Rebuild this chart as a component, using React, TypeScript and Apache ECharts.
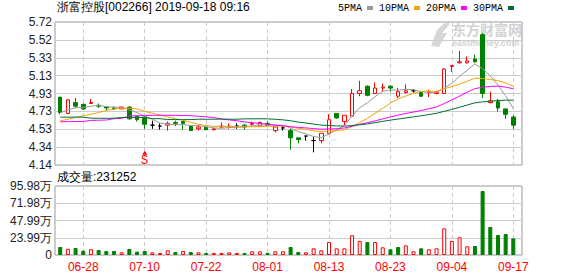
import React, { useEffect, useRef } from 'react';
import * as echarts from 'echarts';

const titleText = '浙富控股[002266] 2019-09-18 09:16';
const lastVolume = 231252;

const dates = [
  '06-25', '06-26', '06-27', '06-28', '07-01', '07-02', '07-03', '07-04', '07-05', '07-08',
  '07-09', '07-10', '07-11', '07-12', '07-15', '07-16', '07-17', '07-18', '07-19', '07-22',
  '07-23', '07-24', '07-25', '07-26', '07-29', '07-30', '07-31', '08-01', '08-02', '08-05',
  '08-06', '08-07', '08-08', '08-09', '08-12', '08-13', '08-14', '08-15', '08-16', '08-19',
  '08-20', '08-21', '08-22', '08-23', '08-26', '08-27', '08-28', '08-29', '08-30', '09-02',
  '09-03', '09-04', '09-05', '09-06', '09-09', '09-10', '09-11', '09-12', '09-16', '09-17',
];

const openP = [
  4.89, 4.71, 4.83, 4.81, 4.82, 4.80, 4.78, 4.77, 4.76, 4.78,
  4.68, 4.67, 4.58, 4.57, 4.58, 4.61, 4.62, 4.57, 4.54, 4.56,
  4.53, 4.56, 4.56, 4.57, 4.58, 4.59, 4.57, 4.60, 4.52, 4.55,
  4.52, 4.44, 4.46, 4.41, 4.41, 4.49, 4.71, 4.62, 4.68, 4.93,
  5.01, 4.93, 4.99, 5.01, 4.90, 4.94, 4.96, 4.94, 4.94, 4.93,
  4.93, 5.23, 5.27, 5.27, 5.31, 5.58, 4.83, 4.84, 4.76, 4.67,
];
const closeP = [
  4.72, 4.86, 4.79, 4.76, 4.83, 4.79, 4.77, 4.76, 4.78, 4.65,
  4.64, 4.59, 4.58, 4.57, 4.60, 4.60, 4.60, 4.52, 4.56, 4.53,
  4.54, 4.57, 4.57, 4.57, 4.56, 4.60, 4.61, 4.58, 4.56, 4.55,
  4.44, 4.42, 4.46, 4.41, 4.49, 4.64, 4.66, 4.69, 4.93, 4.96,
  4.91, 4.99, 5.00, 4.99, 4.95, 4.96, 4.96, 4.90, 4.95, 4.94,
  5.20, 5.24, 5.28, 5.29, 5.28, 4.93, 4.85, 4.77, 4.70, 4.58,
];
const lowP = [
  4.70, 4.70, 4.77, 4.75, 4.82, 4.77, 4.74, 4.75, 4.76, 4.64,
  4.62, 4.54, 4.54, 4.53, 4.52, 4.57, 4.53, 4.52, 4.52, 4.53,
  4.52, 4.55, 4.54, 4.54, 4.53, 4.57, 4.57, 4.58, 4.50, 4.52,
  4.31, 4.38, 4.41, 4.28, 4.38, 4.48, 4.65, 4.58, 4.68, 4.90,
  4.90, 4.93, 4.95, 4.95, 4.88, 4.93, 4.94, 4.89, 4.89, 4.92,
  4.93, 5.17, 5.26, 5.26, 5.27, 4.88, 4.82, 4.73, 4.65, 4.54,
];
const highP = [
  4.89, 4.87, 4.88, 4.82, 4.87, 4.82, 4.79, 4.79, 4.78, 4.79,
  4.68, 4.67, 4.63, 4.60, 4.62, 4.63, 4.63, 4.57, 4.58, 4.56,
  4.55, 4.61, 4.60, 4.60, 4.59, 4.62, 4.62, 4.62, 4.56, 4.57,
  4.54, 4.44, 4.46, 4.45, 4.49, 4.70, 4.71, 4.69, 4.98, 5.07,
  5.02, 5.05, 5.04, 5.02, 4.99, 5.03, 4.98, 4.95, 4.97, 4.96,
  5.21, 5.24, 5.40, 5.34, 5.36, 5.60, 4.95, 4.87, 4.76, 4.69,
];

const ma5 = [
  4.720, 4.748, 4.772, 4.778, 4.788, 4.801, 4.784, 4.778, 4.782, 4.748,
  4.719, 4.682, 4.645, 4.603, 4.592, 4.584, 4.587, 4.576, 4.575, 4.562,
  4.550, 4.545, 4.554, 4.556, 4.561, 4.573, 4.581, 4.584, 4.582, 4.580,
  4.547, 4.508, 4.484, 4.454, 4.442, 4.483, 4.530, 4.576, 4.679, 4.773,
  4.828, 4.895, 4.956, 4.969, 4.967, 4.977, 4.971, 4.951, 4.943, 4.941,
  4.988, 5.043, 5.120, 5.188, 5.257, 5.203, 5.125, 5.023, 4.905, 4.764,
];
const ma10 = [
  4.628, 4.646, 4.665, 4.683, 4.700, 4.720, 4.742, 4.758, 4.770, 4.768,
  4.760, 4.733, 4.712, 4.693, 4.670, 4.652, 4.634, 4.611, 4.589, 4.577,
  4.567, 4.566, 4.565, 4.565, 4.562, 4.562, 4.563, 4.569, 4.569, 4.571,
  4.560, 4.545, 4.534, 4.518, 4.511, 4.515, 4.519, 4.530, 4.567, 4.608,
  4.655, 4.712, 4.766, 4.824, 4.870, 4.902, 4.933, 4.953, 4.956, 4.954,
  4.982, 5.007, 5.035, 5.065, 5.099, 5.096, 5.084, 5.072, 5.047, 5.010,
];
const ma20 = [
  4.618, 4.619, 4.620, 4.621, 4.633, 4.635, 4.637, 4.652, 4.655, 4.682,
  4.684, 4.686, 4.688, 4.689, 4.689, 4.688, 4.687, 4.685, 4.678, 4.673,
  4.664, 4.649, 4.638, 4.629, 4.616, 4.607, 4.599, 4.590, 4.579, 4.574,
  4.564, 4.555, 4.550, 4.542, 4.536, 4.538, 4.541, 4.549, 4.568, 4.589,
  4.608, 4.628, 4.650, 4.671, 4.691, 4.709, 4.726, 4.742, 4.761, 4.781,
  4.819, 4.860, 4.901, 4.945, 4.984, 4.999, 5.008, 5.012, 5.001, 4.982,
];
const ma30 = [
  4.668, 4.668, 4.669, 4.668, 4.657, 4.657, 4.656, 4.657, 4.665, 4.666,
  4.665, 4.665, 4.652, 4.652, 4.642, 4.642, 4.641, 4.642, 4.646, 4.646,
  4.646, 4.647, 4.646, 4.646, 4.650, 4.650, 4.651, 4.650, 4.645, 4.639,
  4.629, 4.614, 4.604, 4.592, 4.581, 4.576, 4.572, 4.570, 4.575, 4.585,
  4.594, 4.608, 4.622, 4.636, 4.648, 4.660, 4.672, 4.684, 4.697, 4.711,
  4.733, 4.755, 4.778, 4.803, 4.827, 4.838, 4.845, 4.852, 4.856, 4.857,
];

const volume = [
  111400, 88200, 97300, 60100, 79400, 70200, 55800, 56300, 37400, 83100,
  46200, 55900, 37100, 28300, 65200, 42100, 56000, 41800, 37200, 28100,
  28400, 27900, 37300, 28200, 28000, 51200, 50800, 28300, 51100, 50900,
  111200, 42300, 37000, 92800, 65100, 181300, 92700, 93100, 274200, 195400,
  181100, 180800, 107300, 79200, 111100, 134400, 51300, 92900, 79100, 93300,
  371200, 195100, 246300, 121200, 125400, 890100, 389800, 278300, 292100, 231252,
];
// 1 = up day (red hollow bar), 0 = down day (green filled bar)
const volUp = [
  0, 1, 0, 0, 1, 0, 0, 0, 1, 0,
  0, 0, 1, 1, 1, 0, 1, 0, 1, 0,
  1, 1, 1, 1, 0, 1, 1, 0, 1, 1,
  0, 0, 1, 1, 1, 1, 1, 1, 1, 1,
  0, 1, 1, 0, 0, 1, 1, 0, 1, 1,
  1, 1, 1, 1, 0, 0, 0, 0, 0, 0,
];

const priceLabels = ['4.14', '4.34', '4.53', '4.73', '4.93', '5.13', '5.33', '5.52', '5.72'];
const volLabels = ['0', '23.99万', '47.99万', '71.98万', '95.98万'];
const xLabelDates = ['06-28', '07-10', '07-22', '08-01', '08-13', '08-23', '09-04', '09-17'];
const maNames = ['5PMA', '10PMA', '20PMA', '30PMA'];
const maColors = ['#9a9a9a', '#f5a300', '#ff00ff', '#006e2e'];
const sMarkDate = '07-10';
const sMarkPrice = 4.275;

const RED = '#ff0000';
const GREEN = '#008000';
const SANS = 'Liberation Sans';

export default function App() {
  const ref = useRef<HTMLDivElement>(null);

  useEffect(() => {
    if (!ref.current) return;
    const chart = echarts.init(ref.current, null, { renderer: 'svg' });

    const priceMin = Number(priceLabels[0]);
    const priceMax = Number(priceLabels[priceLabels.length - 1]);
    const priceStep = (priceMax - priceMin) / (priceLabels.length - 1);
    const priceTickVals = priceLabels.map((_, k) => priceMin + k * priceStep);
    const volMax = 959800;
    const volStep = volMax / (volLabels.length - 1);
    const labelIdx = xLabelDates.map((d) => dates.indexOf(d));
    const xMin = -0.68;
    const xMax = 60.13;
    const maSeries = [ma5, ma10, ma20, ma30];

    const xAxisBase = {
      type: 'value',
      min: xMin,
      max: xMax,
      axisLine: { show: false },
      axisTick: { show: false, customValues: labelIdx },
      splitLine: { show: true, lineStyle: { color: '#cccccc', type: [4, 3], width: 1 } },
    };

    const option: any = {
      animation: false,
      backgroundColor: '#ffffff',
      title: [
        {
          text: titleText,
          left: 57,
          top: 1,
          padding: 0,
          textStyle: { fontSize: 12, fontWeight: 'normal', color: '#000', fontFamily: SANS },
        },
        {
          text: '成交量:' + lastVolume,
          left: 57,
          top: 171,
          padding: 0,
          textStyle: { fontSize: 12, fontWeight: 'normal', color: '#000', fontFamily: SANS },
        },
      ],
      legend: {
        data: maNames,
        left: 338,
        top: 3,
        padding: 0,
        align: 'right',
        icon: 'rect',
        itemWidth: 6,
        itemHeight: 4,
        itemGap: 6,
        selectedMode: false,
        textStyle: { fontSize: 10, color: '#000', fontFamily: 'Liberation Mono' },
      },
      graphic: [
        {
          type: 'polygon',
          z: -10,
          shape: { points: [[431, 46], [437, 30], [446, 22], [450, 24], [442, 33], [447, 33], [439, 47]] },
          style: { fill: '#d6d6d6' },
          silent: true,
        },
        {
          type: 'text',
          z: -10,
          left: 452,
          top: 22,
          silent: true,
          style: { text: '东方财富网', fontSize: 14, fontWeight: 'bold', fill: '#d2d2d2', fontFamily: 'Noto Sans CJK SC' },
        },
        {
          type: 'text',
          z: -10,
          left: 452,
          top: 38,
          silent: true,
          style: { text: 'eastmoney.com', fontSize: 9, fontWeight: 'bold', fill: '#d2d2d2', fontFamily: SANS },
        },
      ],
      grid: [
        { left: 55, right: 56, top: 22, height: 143, show: true, borderColor: '#999', borderWidth: 1 },
        { left: 55, right: 56, top: 186, height: 69, show: true, borderColor: '#999', borderWidth: 1 },
      ],
      xAxis: [
        { ...xAxisBase, gridIndex: 0, axisLabel: { show: false, customValues: labelIdx } },
        {
          ...xAxisBase,
          gridIndex: 1,
          axisLabel: {
            show: true,
            customValues: labelIdx,
            formatter: (v: number) => '{d|' + dates[Math.round(v)] + '}',
            color: RED,
            fontSize: 12,
            margin: 6,
            fontFamily: SANS,
            rich: { d: { color: RED, fontSize: 12, fontFamily: SANS } },
          },
        },
      ],
      yAxis: [
        {
          type: 'value',
          gridIndex: 0,
          min: priceMin,
          max: priceMax,
          axisLine: { show: false },
          axisTick: { show: false, customValues: priceTickVals },
          axisLabel: {
            customValues: priceTickVals,
            formatter: (v: number) => priceLabels[Math.round((v - priceMin) / priceStep)],
            color: '#222',
            fontSize: 12,
            margin: 3,
            fontFamily: SANS,
          },
          splitLine: { show: true, lineStyle: { color: '#cccccc', width: 1 } },
        },
        {
          type: 'value',
          gridIndex: 1,
          min: 0,
          max: volMax,
          interval: volStep,
          axisLine: { show: false },
          axisTick: { show: false },
          axisLabel: {
            formatter: (v: number) => volLabels[Math.round(v / volStep)],
            color: '#222',
            fontSize: 12,
            margin: 3,
            fontFamily: SANS,
          },
          splitLine: { show: true, lineStyle: { color: '#cccccc', width: 1 } },
        },
      ],
      series: [
        {
          type: 'candlestick',
          name: 'K',
          xAxisIndex: 0,
          yAxisIndex: 0,
          barWidth: 4,
          encode: { x: 0, y: [1, 2, 3, 4] },
          data: dates.map((_, i) => [i, openP[i], closeP[i], lowP[i], highP[i]]),
          itemStyle: {
            color: '#ffffff',
            color0: GREEN,
            borderColor: RED,
            borderColor0: GREEN,
            borderColorDoji: '#000000',
            borderWidth: 1,
          },
          markPoint: {
            silent: true,
            symbol: 'triangle',
            symbolSize: [5, 4],
            itemStyle: { color: RED },
            label: {
              show: true,
              position: 'bottom',
              distance: 0,
              formatter: 'S',
              color: RED,
              fontSize: 12,
              fontFamily: 'Liberation Mono',
            },
            data: [{ coord: [dates.indexOf(sMarkDate), sMarkPrice] }],
          },
        },
        ...maNames.map((name, k) => ({
          type: 'line',
          name,
          xAxisIndex: 0,
          yAxisIndex: 0,
          symbol: 'none',
          showSymbol: false,
          data: maSeries[k].map((v, i) => [i, v]),
          lineStyle: { width: 1, color: maColors[k] },
          itemStyle: { color: maColors[k] },
          z: 3,
        })),
        {
          type: 'bar',
          name: 'VOL',
          xAxisIndex: 1,
          yAxisIndex: 1,
          barWidth: 4,
          data: volume.map((v, i) => ({
            value: [i, v],
            itemStyle: volUp[i]
              ? { color: '#ffffff', borderColor: RED, borderWidth: 1 }
              : { color: GREEN, borderColor: GREEN, borderWidth: 1 },
          })),
        },
      ],
    };

    chart.setOption(option);
    return () => chart.dispose();
  }, []);

  return (
    <div
      ref={ref}
      style={{ position: 'fixed', left: 0, top: 0, width: 578, height: 276, background: '#fff' }}
    />
  );
}
